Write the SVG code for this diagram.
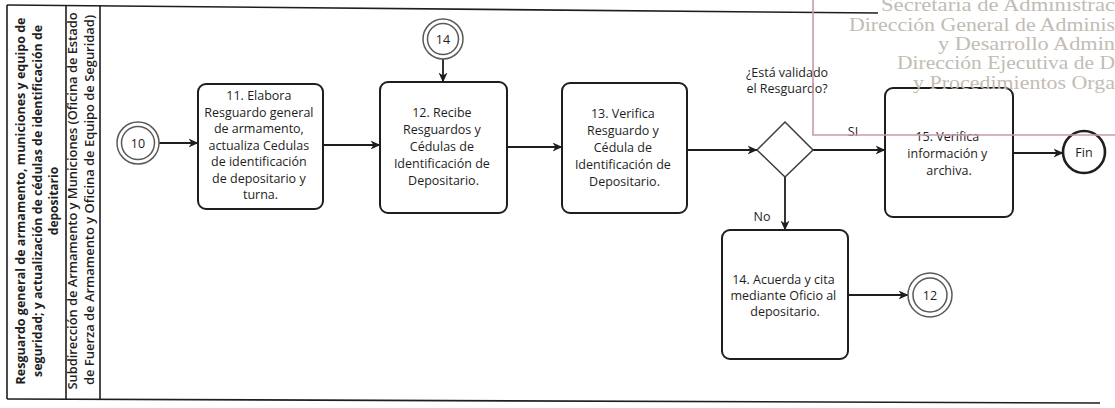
<svg xmlns="http://www.w3.org/2000/svg" width="1115" height="408" viewBox="0 0 1115 408">
  <style>
    .frame { stroke: #1e1e1e; stroke-width: 1.6; fill: none; }
    .lane { font-family: "Open Sans", "Liberation Sans", sans-serif; font-size: 12px; font-weight: 700; fill: #1e1e1e; text-anchor: middle; }
    .lane2 { font-weight: 600; }
    .task { fill: #ffffff; stroke: #1e1e1e; stroke-width: 2; }
    .txt { font-family: "Open Sans", "Liberation Sans", sans-serif; font-size: 12.5px; fill: #1e1e1e; text-anchor: middle; }
    .link { stroke: #1e1e1e; stroke-width: 1.8; fill: none; }
    .ref { fill: #ffffff; stroke: #5a5a5a; stroke-width: 1.5; }
    .stamp { font-family: "Liberation Serif", "Times New Roman", serif; font-size: 18.5px; fill: #c2bcb4; }
  </style>
  <defs>
    <marker id="arrow" viewBox="0 0 10 10" refX="9.5" refY="5" markerWidth="10" markerHeight="10" markerUnits="userSpaceOnUse" orient="auto">
      <path d="M0,0.5 L10,5 L0,9.5 L3,5 Z" fill="#1e1e1e"/>
    </marker>
  </defs>

  <rect width="1115" height="408" fill="#ffffff"/>

  <!-- pool frame and lane header columns -->
  <g id="pool">
    <line class="frame" x1="7" y1="5" x2="878" y2="13"/>
    <line class="frame" x1="7" y1="399" x2="1100" y2="403" stroke-width="2"/>
    <line class="frame" x1="7" y1="5" x2="7" y2="399"/>
    <line class="frame" x1="66" y1="5" x2="66" y2="399" stroke-width="1"/>
    <line class="frame" x1="100" y1="5" x2="100" y2="399"/>
    <g class="lane" transform="translate(0,201) rotate(-90)">
      <text x="0" y="25" textLength="367" lengthAdjust="spacingAndGlyphs">Resguardo general de armamento, municiones y equipo de</text>
      <text x="0" y="41.5" textLength="352" lengthAdjust="spacingAndGlyphs">seguridad; y actualización de cédulas de identificación de</text>
      <text x="0" y="58">depositario</text>
    </g>
    <g class="lane lane2" transform="translate(0,201) rotate(-90)">
      <text x="0" y="77" textLength="377" lengthAdjust="spacingAndGlyphs">Subdirección de Armamento y Municiones (Oficina de Estado</text>
      <text x="1" y="94" textLength="370" lengthAdjust="spacingAndGlyphs">de Fuerza de Armamento y Oficina de Equipo de Seguridad)</text>
    </g>
  </g>

  <!-- connectors -->
  <g id="connectors">
    <line class="link" x1="159" y1="143" x2="198" y2="143" marker-end="url(#arrow)"/>
    <line class="link" x1="323" y1="145" x2="380" y2="145" marker-end="url(#arrow)"/>
    <line class="link" x1="443" y1="59" x2="443" y2="82" marker-end="url(#arrow)"/>
    <line class="link" x1="507" y1="147" x2="562" y2="147" marker-end="url(#arrow)"/>
    <line class="link" x1="687" y1="150" x2="757" y2="150" marker-end="url(#arrow)"/>
    <line class="link" x1="813" y1="150" x2="885" y2="150" marker-end="url(#arrow)"/>
    <line class="link" x1="785" y1="177" x2="785" y2="230" marker-end="url(#arrow)"/>
    <line class="link" x1="1013" y1="153" x2="1063" y2="153" marker-end="url(#arrow)"/>
    <line class="link" x1="848" y1="295" x2="908" y2="295" marker-end="url(#arrow)"/>
    <text class="txt" x="853" y="136">SI</text>
    <text class="txt" x="762" y="221">No</text>
  </g>

  <g id="ref-10">
    <circle class="ref" cx="138" cy="143" r="21"/>
    <circle class="ref" cx="138" cy="143" r="16.5"/>
    <text class="txt" x="138" y="147.5">10</text>
  </g>

  <g id="task-11">
    <rect class="task" x="198" y="84" width="125" height="125" rx="8"/>
    <text class="txt">
      <tspan x="260.5" y="100">11. Elabora</tspan>
      <tspan x="260.5" y="116.5">Resguardo general</tspan>
      <tspan x="260.5" y="133">de armamento,</tspan>
      <tspan x="260.5" y="149.5">actualiza Cedulas</tspan>
      <tspan x="260.5" y="166">de identificación</tspan>
      <tspan x="260.5" y="182.5">de depositario y</tspan>
      <tspan x="260.5" y="199">turna.</tspan>
    </text>
  </g>

  <g id="ref-14">
    <circle class="ref" cx="443" cy="39" r="20"/>
    <circle class="ref" cx="443" cy="39" r="15.5"/>
    <text class="txt" x="443" y="43.5">14</text>
  </g>

  <g id="task-12">
    <rect class="task" x="380" y="82" width="127" height="131" rx="8"/>
    <text class="txt">
      <tspan x="443.5" y="117">12. Recibe</tspan>
      <tspan x="443.5" y="134">Resguardos y</tspan>
      <tspan x="443.5" y="151">Cédulas de</tspan>
      <tspan x="443.5" y="168">Identificación de</tspan>
      <tspan x="443.5" y="185">Depositario.</tspan>
    </text>
  </g>

  <g id="task-13">
    <rect class="task" x="562" y="83" width="125" height="130" rx="8"/>
    <text class="txt">
      <tspan x="624.5" y="118">13. Verifica</tspan>
      <tspan x="624.5" y="135">Resguardo y</tspan>
      <tspan x="624.5" y="152">Cédula de</tspan>
      <tspan x="624.5" y="169">Identificación de</tspan>
      <tspan x="624.5" y="186">Depositario.</tspan>
    </text>
  </g>

  <g id="gateway">
    <polygon points="757,150 785,122 813,150 785,177" fill="#ffffff" stroke="#3a3a3a" stroke-width="1.5"/>
    <text class="txt" x="787" y="77">¿Está validado</text>
    <text class="txt" x="787" y="93">el Resguardo?</text>
  </g>

  <g id="task-15">
    <rect class="task" x="885" y="88" width="128" height="129" rx="8"/>
    <text class="txt">
      <tspan x="949" y="141">15. Verifica</tspan>
      <tspan x="949" y="158">información y</tspan>
      <tspan x="949" y="175">archiva.</tspan>
    </text>
  </g>

  <g id="end">
    <circle cx="1084" cy="152" r="21" fill="#ffffff" stroke="#1e1e1e" stroke-width="2.6"/>
    <text class="txt" x="1084" y="156.5">Fin</text>
  </g>

  <g id="task-14">
    <rect class="task" x="722" y="230" width="126" height="129" rx="8"/>
    <text class="txt">
      <tspan x="785" y="284">14. Acuerda y cita</tspan>
      <tspan x="785" y="300">mediante Oficio al</tspan>
      <tspan x="785" y="316">depositario.</tspan>
    </text>
  </g>

  <g id="ref-12">
    <circle class="ref" cx="930" cy="295" r="22"/>
    <circle class="ref" cx="930" cy="295" r="17"/>
    <text class="txt" x="930" y="299.5">12</text>
  </g>

  <!-- office stamp, upper right -->
  <g id="stamp">
    <text class="stamp" x="881" y="11" textLength="234" lengthAdjust="spacingAndGlyphs">Secretaría  de Administrac</text>
    <text class="stamp" x="849" y="31" textLength="266" lengthAdjust="spacingAndGlyphs">Dirección General de Adminis</text>
    <text class="stamp" x="938" y="50" textLength="177" lengthAdjust="spacingAndGlyphs">y Desarrollo Admin</text>
    <text class="stamp" x="897" y="69" textLength="218" lengthAdjust="spacingAndGlyphs">Dirección Ejecutiva de D</text>
    <text class="stamp" x="913" y="89" textLength="202" lengthAdjust="spacingAndGlyphs">y Procedimientos Orga</text>
    <polyline points="813,0 813,135 1115,135" fill="none" stroke="#c99aa8" stroke-width="1.6"/>
  </g>
</svg>
